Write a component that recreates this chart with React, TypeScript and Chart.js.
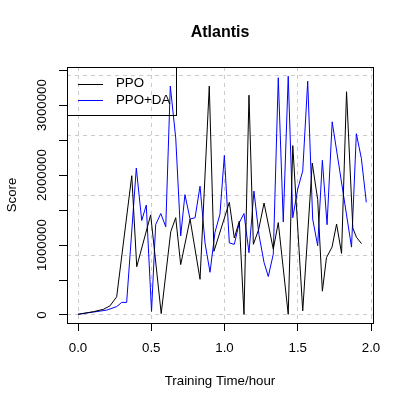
import React, { useEffect, useRef } from 'react';
import { Chart, registerables } from 'chart.js';

Chart.register(...registerables);

const FONT = '"Liberation Sans", Arial, Helvetica, sans-serif';

const TITLE = 'Atlantis';
const X_LABEL = 'Training Time/hour';
const Y_LABEL = 'Score';
const SERIES_NAMES = ['PPO', 'PPO+DA'];
const SERIES_COLORS = ['#000000', '#0000ff'];

const PPO_TIME = [0, 0.104, 0.173, 0.218, 0.264, 0.367, 0.401, 0.496, 0.568, 0.633, 0.667, 0.701, 0.765, 0.833, 0.896, 0.928, 1.033, 1.067, 1.101, 1.133, 1.167, 1.197, 1.233, 1.27, 1.333, 1.367, 1.435, 1.466, 1.534, 1.599, 1.636, 1.668, 1.696, 1.734, 1.765, 1.799, 1.833, 1.876, 1.901, 1.935];
const PPO_SCORE = [10000, 47000, 81000, 130000, 260000, 1990000, 690000, 1430000, 20000, 1190000, 1390000, 720000, 1370000, 510000, 3270000, 910000, 1610000, 1100000, 1340000, 10000, 3140000, 1010000, 1220000, 1600000, 940000, 1320000, 10000, 2420000, 60000, 2170000, 1650000, 340000, 820000, 970000, 1300000, 880000, 3190000, 1240000, 1110000, 1020000];

const DA_TIME = [0, 0.196, 0.264, 0.298, 0.332, 0.398, 0.435, 0.466, 0.502, 0.53, 0.565, 0.599, 0.63, 0.667, 0.701, 0.73, 0.765, 0.799, 0.833, 0.867, 0.901, 0.935, 0.969, 0.999, 1.033, 1.067, 1.101, 1.133, 1.167, 1.201, 1.235, 1.27, 1.299, 1.333, 1.367, 1.401, 1.435, 1.466, 1.5, 1.534, 1.568, 1.602, 1.636, 1.668, 1.7, 1.735, 1.867, 1.9, 1.934, 1.968];
const DA_SCORE = [10000, 70000, 120000, 180000, 180000, 2100000, 1350000, 1570000, 50000, 1290000, 1450000, 1260000, 3270000, 2530000, 1130000, 1720000, 1370000, 1390000, 1840000, 1030000, 610000, 1180000, 1440000, 2280000, 1030000, 1010000, 1320000, 1450000, 890000, 1770000, 1150000, 750000, 550000, 870000, 3390000, 1330000, 3410000, 1390000, 1800000, 2060000, 3340000, 1370000, 990000, 2210000, 1290000, 2760000, 970000, 2590000, 2240000, 1610000];

const X_TICKS = [0, 0.5, 1, 1.5, 2];
const X_TICK_LABELS = ['0.0', '0.5', '1.0', '1.5', '2.0'];
const Y_TICKS = [0, 500000, 1000000, 1500000, 2000000, 2500000, 3000000, 3500000];
const Y_LABEL_VALUES = [0, 1000000, 2000000, 3000000];
const Y_TICK_LABELS = ['0', '1000000', '2000000', '3000000'];
const Y_GRID = [0, 857143, 1714286, 2571429, 3428571];

const X_MIN = -0.0751;
const X_MAX = 2.0136;
const Y_MIN = -114300;
const Y_MAX = 3543000;

const al = (v: number) => Math.round(v - 0.5) + 0.5;

export default function App() {
  const ref = useRef<HTMLCanvasElement>(null);

  useEffect(() => {
    const canvas = ref.current;
    if (!canvas) return;

    const extras = {
      id: 'rExtras',
      afterDraw(chart: any) {
        const ctx = chart.ctx;
        const { left, right, top, bottom } = chart.chartArea;
        ctx.save();
        // plot box
        ctx.strokeStyle = '#000';
        ctx.lineWidth = 1;
        ctx.setLineDash([]);
        ctx.strokeRect(al(left), al(top), al(right) - al(left), al(bottom) - al(top));

        // title
        ctx.fillStyle = '#000';
        ctx.font = `bold 16px ${FONT}`;
        ctx.textAlign = 'center';
        ctx.textBaseline = 'middle';
        ctx.fillText(TITLE, (left + right) / 2, 33);

        // y tick labels (parallel to axis)
        ctx.font = `13.3px ${FONT}`;
        const ys = chart.scales.y;
        Y_LABEL_VALUES.forEach((v, i) => {
          const py = ys.getPixelForValue(v);
          ctx.save();
          ctx.translate(42.5, py);
          ctx.rotate(-Math.PI / 2);
          ctx.textAlign = 'center';
          ctx.textBaseline = 'middle';
          ctx.fillText(Y_TICK_LABELS[i], 0, 0);
          ctx.restore();
        });

        // legend
        const lw = 109;
        const lh = 48;
        ctx.strokeRect(al(left), al(top), lw, lh);
        SERIES_NAMES.forEach((name, i) => {
          const y = top + 16.5 + i * 16.5;
          ctx.strokeStyle = SERIES_COLORS[i];
          ctx.beginPath();
          ctx.moveTo(left + 11, Math.round(y) + 0.5);
          ctx.lineTo(left + 36, Math.round(y) + 0.5);
          ctx.stroke();
          ctx.fillStyle = '#000';
          ctx.textAlign = 'left';
          ctx.textBaseline = 'middle';
          ctx.fillText(name, left + 49, y);
        });
        ctx.restore();
      },
    };

    const chart = new Chart(canvas, {
      type: 'line',
      data: {
        datasets: [
          {
            label: SERIES_NAMES[0],
            data: PPO_TIME.map((t, i) => ({ x: t, y: PPO_SCORE[i] })),
            borderColor: SERIES_COLORS[0],
            borderWidth: 1,
            pointRadius: 0,
            tension: 0,
            fill: false,
          },
          {
            label: SERIES_NAMES[1],
            data: DA_TIME.map((t, i) => ({ x: t, y: DA_SCORE[i] })),
            borderColor: SERIES_COLORS[1],
            borderWidth: 1,
            pointRadius: 0,
            tension: 0,
            fill: false,
          },
        ],
      },
      options: {
        responsive: false,
        animation: false,
        devicePixelRatio: 1,
        layout: { padding: { top: 67, right: 34, left: 0, bottom: 0 } },
        plugins: {
          legend: { display: false },
          title: { display: false },
          tooltip: { enabled: false },
        },
        scales: {
          x: {
            type: 'linear',
            position: 'bottom',
            min: X_MIN,
            max: X_MAX,
            afterBuildTicks: (s: any) => {
              s.ticks = X_TICKS.map((v) => ({ value: v }));
            },
            afterFit: (s: any) => {
              s.height = 84;
            },
            ticks: {
              callback: (_v: any, i: number) => X_TICK_LABELS[i],
              padding: 9,
              color: '#000',
              font: { family: FONT, size: 13.3 },
              maxRotation: 0,
              autoSkip: false,
            },
            grid: {
              color: '#cccccc',
              lineWidth: 1,
              drawTicks: true,
              tickLength: 8,
              tickColor: '#000',
              tickWidth: 1,
            },
            border: { display: true, color: '#000', width: 1, dash: [4, 4] },
            title: {
              display: true,
              text: X_LABEL,
              color: '#000',
              font: { family: FONT, size: 13.3 },
              padding: { top: 0, bottom: 18 },
            },
          },
          y: {
            type: 'linear',
            position: 'left',
            min: Y_MIN,
            max: Y_MAX,
            afterBuildTicks: (s: any) => {
              s.ticks = Y_TICKS.map((v) => ({ value: v }));
            },
            afterFit: (s: any) => {
              s.width = 67;
            },
            ticks: { display: false },
            grid: {
              drawOnChartArea: false,
              drawTicks: true,
              tickLength: 8,
              tickColor: '#000',
              tickWidth: 1,
              color: '#000',
            },
            border: { display: true, color: '#000', width: 1 },
            title: {
              display: true,
              text: Y_LABEL,
              color: '#000',
              font: { family: FONT, size: 13.3 },
              padding: { top: 4, bottom: 0 },
            },
          },
          yg: {
            type: 'linear',
            position: 'left',
            min: Y_MIN,
            max: Y_MAX,
            afterBuildTicks: (s: any) => {
              s.ticks = Y_GRID.map((v) => ({ value: v }));
            },
            afterFit: (s: any) => {
              s.width = 0;
            },
            ticks: { display: false },
            grid: { color: '#cccccc', lineWidth: 1, drawTicks: false },
            border: { display: false, dash: [4, 4] },
            title: { display: false },
          },
        },
      } as any,
      plugins: [extras],
    });

    return () => chart.destroy();
  }, []);

  return (
    <div style={{ position: 'absolute', left: 0, top: 0, width: 407, height: 407, background: '#fff' }}>
      <canvas ref={ref} width={407} height={407} style={{ display: 'block' }} />
    </div>
  );
}
